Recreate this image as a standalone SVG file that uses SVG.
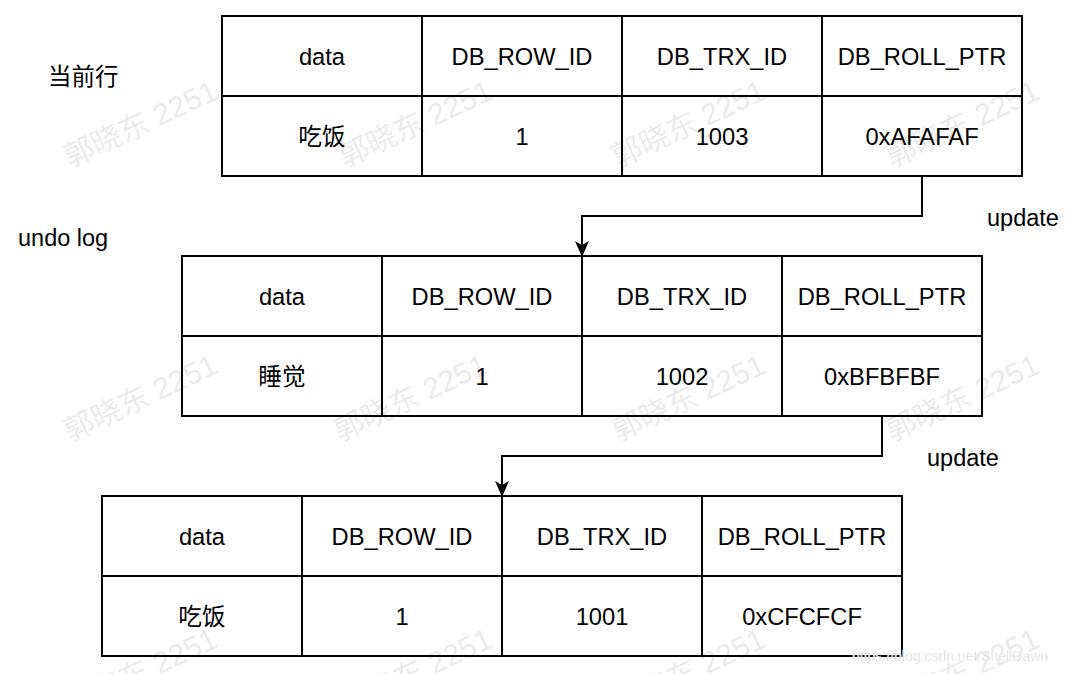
<svg xmlns="http://www.w3.org/2000/svg" width="1080" height="674" viewBox="0 0 1080 674">
<style>
.cell{fill:#fff;stroke:#000;stroke-width:2}
.ln{stroke:#000;stroke-width:2;fill:none}
.t{font-family:"Liberation Sans","Noto Sans CJK SC",sans-serif;font-size:23.7px;fill:#000;text-anchor:middle;dominant-baseline:central}
.lab{font-family:"Liberation Sans","Noto Sans CJK SC",sans-serif;font-size:23.5px;fill:#000}
.wm{font-family:"Liberation Sans","Noto Sans CJK SC",sans-serif;font-size:30px;fill:#000;opacity:0.08}
.conn{stroke:#000;stroke-width:2;fill:none;marker-end:url(#arr)}
</style>
<defs>
<marker id="arr" viewBox="0 0 16 14" refX="15" refY="7" markerWidth="16" markerHeight="14" markerUnits="userSpaceOnUse" orient="auto">
<path d="M0,0 L16,7 L0,14 L4,7 z" fill="#000"/>
</marker>
<g id="wmk"><text class="wm" x="0" y="0" transform="rotate(-25)">郭晓东 2251</text></g>
</defs>
<rect width="1080" height="674" fill="#fff"/>

<text class="lab" x="48" y="85">当前行</text>
<text class="lab" x="18" y="246">undo log</text>
<text class="lab" x="987" y="226">update</text>
<text class="lab" x="927" y="466">update</text>

<g id="table1">
<rect class="cell" x="222" y="16" width="800" height="160"/>
<line class="ln" x1="222" y1="96" x2="1022" y2="96"/>
<line class="ln" x1="422" y1="16" x2="422" y2="176"/>
<line class="ln" x1="622" y1="16" x2="622" y2="176"/>
<line class="ln" x1="822" y1="16" x2="822" y2="176"/>
<text class="t" x="322" y="57">data</text>
<text class="t" x="522" y="57">DB_ROW_ID</text>
<text class="t" x="722" y="57">DB_TRX_ID</text>
<text class="t" x="922" y="57">DB_ROLL_PTR</text>
<text class="t" x="322" y="137">吃饭</text>
<text class="t" x="522" y="137">1</text>
<text class="t" x="722" y="137">1003</text>
<text class="t" x="922" y="137">0xAFAFAF</text>
</g>

<g id="table2">
<rect class="cell" x="182" y="256" width="800" height="160"/>
<line class="ln" x1="182" y1="336" x2="982" y2="336"/>
<line class="ln" x1="382" y1="256" x2="382" y2="416"/>
<line class="ln" x1="582" y1="256" x2="582" y2="416"/>
<line class="ln" x1="782" y1="256" x2="782" y2="416"/>
<text class="t" x="282" y="297">data</text>
<text class="t" x="482" y="297">DB_ROW_ID</text>
<text class="t" x="682" y="297">DB_TRX_ID</text>
<text class="t" x="882" y="297">DB_ROLL_PTR</text>
<text class="t" x="282" y="377">睡觉</text>
<text class="t" x="482" y="377">1</text>
<text class="t" x="682" y="377">1002</text>
<text class="t" x="882" y="377">0xBFBFBF</text>
</g>

<g id="table3">
<rect class="cell" x="102" y="496" width="800" height="160"/>
<line class="ln" x1="102" y1="576" x2="902" y2="576"/>
<line class="ln" x1="302" y1="496" x2="302" y2="656"/>
<line class="ln" x1="502" y1="496" x2="502" y2="656"/>
<line class="ln" x1="702" y1="496" x2="702" y2="656"/>
<text class="t" x="202" y="537">data</text>
<text class="t" x="402" y="537">DB_ROW_ID</text>
<text class="t" x="602" y="537">DB_TRX_ID</text>
<text class="t" x="802" y="537">DB_ROLL_PTR</text>
<text class="t" x="202" y="617">吃饭</text>
<text class="t" x="402" y="617">1</text>
<text class="t" x="602" y="617">1001</text>
<text class="t" x="802" y="617">0xCFCFCF</text>
</g>

<g id="connectors">
<path class="conn" d="M922,176 V216 H582 V256"/>
<path class="conn" d="M882,416 V456 H502 V496"/>
</g>

<g id="watermarks">
<use href="#wmk" x="70" y="168"/>
<use href="#wmk" x="345" y="168"/>
<use href="#wmk" x="618" y="168"/>
<use href="#wmk" x="892" y="168"/>
<use href="#wmk" x="70" y="442"/>
<use href="#wmk" x="340" y="442"/>
<use href="#wmk" x="618" y="442"/>
<use href="#wmk" x="892" y="442"/>
<use href="#wmk" x="70" y="716"/>
<use href="#wmk" x="345" y="716"/>
<use href="#wmk" x="618" y="716"/>
<use href="#wmk" x="892" y="716"/>
</g>
<text x="852" y="661" style="font-family:'Liberation Sans',sans-serif;font-size:14px;fill:#c8c8c8;stroke:#fff;stroke-width:0.5">https://blog.csdn.net/ShellDawn</text>
</svg>
